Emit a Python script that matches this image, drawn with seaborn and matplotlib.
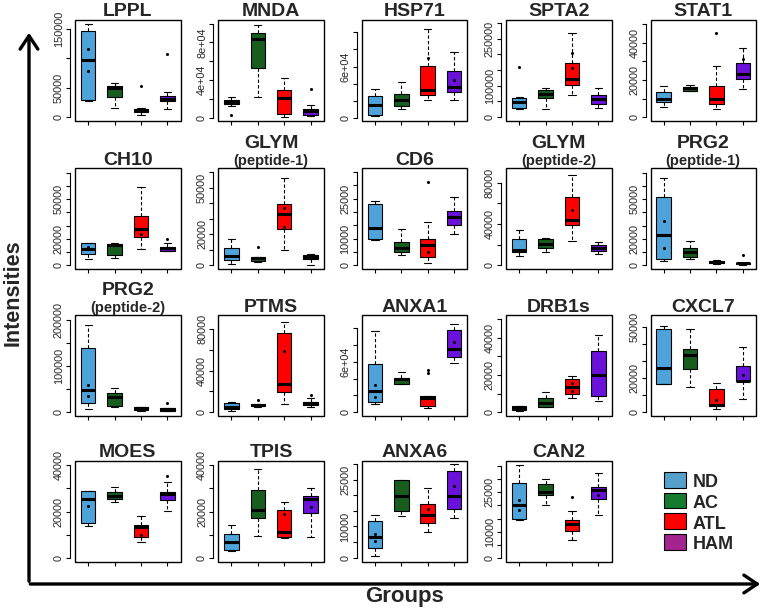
import numpy as np
import pandas as pd
import matplotlib
matplotlib.use("Agg")
import matplotlib.pyplot as plt
from matplotlib.patches import Rectangle, FancyArrowPatch
import seaborn as sns


# =========================
# Data
# =========================

GROUPS = ["ND", "AC", "ATL", "HAM"]
BOX_COLORS = ["#4DA3DA", "#175E1E", "#FF0000", "#6A12D9"]
LEGEND_COLORS = ["#55A1CB", "#137A30", "#FF0000", "#A5238F"]

# per group: [low whisker, q1, median, q3, high whisker]
LPPL = [[28000, 28600, 97400, 146000, 157500], [15500, 34400, 48700, 52700, 57300],
        [4000, 8600, 11500, 14300, 16000], [14300, 27000, 31500, 36000, 43000]]
LPPL_PTS = [[116000, 78500], [], [53300], [107000]]
LPPL_TICKS = [0, 50000, 100000, 150000]
LPPL_LAB = ["0", "50000", "", "150000"]

MNDA = [[13000, 14300, 16800, 19300, 22100], [21800, 52500, 83900, 90000, 98600],
        [700, 4300, 21100, 30000, 42500], [1800, 3200, 6800, 9600, 13200]]
MNDA_PTS = [[3200], [], [], [31000]]
MNDA_TICKS = [0, 20000, 40000, 60000, 80000, 100000]
MNDA_LAB = ["0", "", "4e+04", "", "8e+04", ""]

HSP71 = [[1600, 2800, 15400, 25600, 33500], [10600, 14200, 21300, 28400, 42200],
         [21300, 26400, 33100, 60700, 104000], [21300, 30400, 36300, 54800, 76500]]
HSP71_PTS = [[], [], [69800], [44200]]
HSP71_TICKS = [0, 20000, 40000, 60000, 80000, 100000]
HSP71_LAB = ["0", "", "", "6e+04", "", ""]

SPTA2 = [[24800, 30200, 48600, 61500, 64000], [27000, 61500, 73400, 86400, 91800],
         [70200, 101500, 122000, 172800, 266800], [30200, 43200, 57200, 70200, 91800]]
SPTA2_PTS = [[160000], [], [156600, 205000], []]
SPTA2_TICKS = [0, 50000, 100000, 150000, 200000, 250000, 300000]
SPTA2_LAB = ["0", "", "100000", "", "", "250000", ""]

STAT1 = [[5500, 8200, 10000, 13300, 16700], [14200, 14200, 15500, 16400, 17300],
         [4500, 6900, 10000, 16700, 27600], [14900, 20400, 23100, 29100, 37300]]
STAT1_PTS = [[], [], [45100], [31000]]
STAT1_TICKS = [0, 10000, 20000, 30000, 40000, 50000]
STAT1_LAB = ["0", "", "20000", "", "40000", ""]

CH10 = [[5000, 8250, 12000, 16500, 17000], [5250, 7750, 15000, 16250, 17000],
        [12000, 21250, 27500, 37500, 59000], [10750, 10750, 13000, 14000, 17000]]
CH10_PTS = [[14000], [], [24000], [20250]]
CH10_TICKS = [0, 10000, 20000, 30000, 40000, 50000, 60000, 70000]
CH10_LAB = ["0", "", "20000", "", "", "50000", "", ""]

GLYM1 = [[600, 3400, 6000, 10900, 16700], [2350, 2800, 4500, 5350, 5350],
         [9850, 23600, 33400, 39600, 56300], [200, 3900, 5600, 6400, 7100]]
GLYM1_PTS = [[], [11800], [37000, 24600], []]
GLYM1_TICKS = [0, 10000, 20000, 30000, 40000, 50000, 60000]
GLYM1_LAB = ["0", "", "20000", "", "", "50000", ""]

CD6 = [[9500, 10000, 13900, 22900, 24100], [3900, 5100, 6600, 8750, 13750],
       [1000, 3250, 7600, 9750, 16250], [11900, 15000, 18250, 20400, 25600]]
CD6_PTS = [[], [], [31400, 5000], []]
CD6_TICKS = [0, 5000, 10000, 15000, 20000, 25000, 30000, 35000]
CD6_LAB = ["0", "", "10000", "", "", "25000", "", ""]

GLYM2 = [[9000, 12800, 14400, 25600, 34600], [12800, 17000, 21100, 25000, 26600],
         [23400, 38700, 44200, 65600, 87400], [11200, 13800, 17000, 19200, 22400]]
GLYM2_PTS = [[], [], [53800], []]
GLYM2_TICKS = [0, 20000, 40000, 60000, 80000]
GLYM2_LAB = ["0", "", "40000", "", "80000"]

PRG2A = [[3250, 4500, 23250, 51250, 65700], [4500, 6250, 10250, 13250, 18250],
         [1250, 1500, 2500, 3250, 4000], [250, 750, 1500, 2000, 2000]]
PRG2A_PTS = [[33250, 13250], [], [], [7500]]
PRG2A_TICKS = [0, 10000, 20000, 30000, 40000, 50000, 60000, 70000]
PRG2A_LAB = ["0", "", "20000", "", "", "50000", "", ""]

PRG2B = [[5800, 18000, 47000, 139000, 189000], [10800, 12300, 32500, 41000, 52000],
         [2200, 3600, 7200, 9400, 10800], [1400, 2200, 5000, 7200, 7200]]
PRG2B_PTS = [[57800, 34000], [], [], [18000]]
PRG2B_TICKS = [0, 50000, 100000, 150000, 200000]
PRG2B_LAB = ["0", "", "100000", "", "200000"]

PTMS = [[650, 2300, 4900, 8750, 9700], [4900, 5500, 6500, 7450, 7450],
        [7450, 19400, 26900, 76200, 87500], [4900, 6500, 8100, 9700, 13000]]
PTMS_PTS = [[], [11300], [59000], [16200]]
PTMS_TICKS = [0, 20000, 40000, 60000, 80000]
PTMS_LAB = ["0", "", "40000", "", "80000"]

ANXA1 = [[9900, 12600, 25300, 57200, 96700], [33500, 33500, 39000, 41000, 48100],
         [4700, 7500, 16600, 19300, 19300], [58000, 65100, 74500, 97400, 105000]]
ANXA1_PTS = [[32300, 17800], [], [50000, 47000], [83600]]
ANXA1_TICKS = [0, 20000, 40000, 60000, 80000, 100000]
ANXA1_LAB = ["0", "", "", "6e+04", "", ""]

DRB1S = [[900, 1250, 2100, 3400, 3600], [3000, 3000, 4800, 7500, 11000],
         [7500, 9600, 13750, 17700, 19500], [6250, 8750, 20000, 32900, 41400]]
DRB1S_PTS = [[], [], [15500, 11500], []]
DRB1S_TICKS = [0, 10000, 20000, 30000, 40000, 50000]
DRB1S_LAB = ["0", "", "20000", "", "40000", ""]

CXCL7 = [[16500, 16700, 25900, 48800, 50800], [14700, 25300, 33700, 37100, 49000],
         [1800, 3700, 4300, 13500, 17500], [7800, 18600, 18600, 27500, 38200]]
CXCL7_PTS = [[], [], [7000], [22000]]
CXCL7_TICKS = [0, 10000, 20000, 30000, 40000, 50000]
CXCL7_LAB = ["0", "", "20000", "", "", "50000"]

MOES = [[13900, 15000, 25400, 28900, 28900], [24000, 25300, 26900, 28300, 30700],
        [6900, 9000, 13300, 14300, 18300], [20400, 25000, 27400, 28300, 32600]]
MOES_PTS = [[22600], [], [10000], [35400]]
MOES_TICKS = [0, 10000, 20000, 30000, 40000]
MOES_LAB = ["0", "", "20000", "", "40000"]

TPIS = [[3100, 3600, 6900, 10300, 14300], [9700, 17400, 20700, 29300, 38100],
        [8600, 9000, 11100, 20700, 24300], [9000, 19300, 25300, 26900, 30300]]
TPIS_PTS = [[7000], [], [19000], [22000]]
TPIS_TICKS = [0, 10000, 20000, 30000, 40000]
TPIS_LAB = ["0", "", "20000", "", "40000"]

ANXA6 = [[500, 3200, 6600, 11700, 13600], [13500, 15100, 19700, 25000, 25000],
         [8200, 11000, 13600, 17200, 22300], [12600, 15600, 19900, 27900, 30100]]
ANXA6_PTS = [[7700, 5500], [], [15700], [22900]]
ANXA6_TICKS = [0, 5000, 10000, 15000, 20000, 25000, 30000]
ANXA6_LAB = ["0", "", "10000", "", "", "25000", ""]

CAN2 = [[14500, 14800, 20300, 28400, 35400], [20000, 24100, 25000, 28100, 30000],
        [6900, 10300, 12900, 14400, 17800], [16300, 22500, 25900, 26900, 32100]]
CAN2_PTS = [[21900, 18400], [], [23100], [24000]]
CAN2_TICKS = [0, 5000, 10000, 15000, 20000, 25000, 30000, 35000]
CAN2_LAB = ["0", "", "10000", "", "", "25000", "", ""]


# =========================
# Panel table
# =========================

PANELS = [
    ("LPPL", None, LPPL, LPPL_PTS, LPPL_TICKS, LPPL_LAB, (-5700, 166000)),
    ("MNDA", None, MNDA, MNDA_PTS, MNDA_TICKS, MNDA_LAB, (-2900, 104300)),
    ("HSP71", None, HSP71, HSP71_PTS, HSP71_TICKS, HSP71_LAB, (-3150, 115000)),
    ("SPTA2", None, SPTA2, SPTA2_PTS, SPTA2_TICKS, SPTA2_LAB, (-10800, 311000)),
    ("STAT1", None, STAT1, STAT1_PTS, STAT1_TICKS, STAT1_LAB, (-1800, 52400)),
    ("CH10", None, CH10, CH10_PTS, CH10_TICKS, CH10_LAB, (-3000, 73250)),
    ("GLYM", "(peptide-1)", GLYM1, GLYM1_PTS, GLYM1_TICKS, GLYM1_LAB, (-2600, 62700)),
    ("CD6", None, CD6, CD6_PTS, CD6_TICKS, CD6_LAB, (-1500, 36400)),
    ("GLYM", "(peptide-2)", GLYM2, GLYM2_PTS, GLYM2_TICKS, GLYM2_LAB, (-3800, 93800)),
    ("PRG2", "(peptide-1)", PRG2A, PRG2A_PTS, PRG2A_TICKS, PRG2A_LAB, (-3000, 73250)),
    ("PRG2", "(peptide-2)", PRG2B, PRG2B_PTS, PRG2B_TICKS, PRG2B_LAB, (-9400, 210000)),
    ("PTMS", None, PTMS, PTMS_PTS, PTMS_TICKS, PTMS_LAB, (-4200, 94000)),
    ("ANXA1", None, ANXA1, ANXA1_PTS, ANXA1_TICKS, ANXA1_LAB, (-4300, 115200)),
    ("DRB1s", None, DRB1S, DRB1S_PTS, DRB1S_TICKS, DRB1S_LAB, (-2000, 52100)),
    ("CXCL7", None, CXCL7, CXCL7_PTS, CXCL7_TICKS, CXCL7_LAB, (-2150, 57250)),
    ("MOES", None, MOES, MOES_PTS, MOES_TICKS, MOES_LAB, (-1430, 41860)),
    ("TPIS", None, TPIS, TPIS_PTS, TPIS_TICKS, TPIS_LAB, (-1430, 41860)),
    ("ANXA6", None, ANXA6, ANXA6_PTS, ANXA6_TICKS, ANXA6_LAB, (-1280, 31060)),
    ("CAN2", None, CAN2, CAN2_PTS, CAN2_TICKS, CAN2_LAB, (-1250, 36900)),
]


# =========================
# Layout (pixels)
# =========================

W_PX, H_PX = 765, 611
COL_LEFT = [75, 218.3, 361.7, 506, 650.5]
ROW_TOP = [19.5, 168.3, 315, 460.7]
BOX_W, BOX_H = 105.5, 101


sns.set_theme(style="white")
plt.rcParams["font.family"] = ["Liberation Sans", "DejaVu Sans"]

fig = plt.figure(figsize=(W_PX / 100, H_PX / 100), dpi=100)
fig.patch.set_facecolor("white")


def px_rect(x, y, w, h):
    return [x / W_PX, 1 - (y + h) / H_PX, w / W_PX, h / H_PX]


def long_frame(values):
    rows = [(g, v) for g, vals in zip(GROUPS, values) for v in vals]
    return pd.DataFrame(rows, columns=["group", "value"])


for i, (name, sub, boxes, pts, ticks, labels, ylim) in enumerate(PANELS):

    r, c = divmod(i, 5)

    ax = fig.add_axes(px_rect(COL_LEFT[c], ROW_TOP[r], BOX_W, BOX_H))

    sns.boxplot(
        data=long_frame(boxes),
        x="group",
        y="value",
        hue="group",
        order=GROUPS,
        hue_order=GROUPS,
        palette=BOX_COLORS,
        saturation=1,
        width=0.55,
        whis=(0, 100),
        showfliers=False,
        linewidth=0.8,
        linecolor="black",
        medianprops={"linewidth": 2.2},
        whiskerprops={"linestyle": (0, (3, 2))},
        dodge=False,
        legend=False,
        ax=ax,
    )

    pt_df = long_frame(pts)
    if len(pt_df):
        sns.stripplot(
            data=pt_df,
            x="group",
            y="value",
            order=GROUPS,
            color="black",
            size=2.2,
            jitter=False,
            ax=ax,
        )

    ax.set_xlim(-0.5, 3.5)
    ax.set_ylim(*ylim)
    ax.set_xlabel("")
    ax.set_ylabel("")

    for s in ["top", "right", "bottom"]:
        ax.spines[s].set_visible(False)
    ax.spines["left"].set_position(("outward", 3.6))
    ax.spines["left"].set_bounds(ticks[0], ticks[-1])
    ax.spines["left"].set_linewidth(0.8)
    ax.spines["left"].set_color("black")

    ax.tick_params(axis="both", length=3, width=0.8, direction="out",
                   pad=1.5, color="black", left=True, bottom=True)
    ax.tick_params(axis="y", labelrotation=90, labelsize=7.8)

    ax.set_xticks(range(4))
    ax.set_xticklabels([])
    ax.set_yticks(ticks)
    ax.set_yticklabels(labels)
    for t in ax.get_yticklabels():
        t.set_rotation(90)
        t.set_va("center")
        t.set_ha("right")
        t.set_fontsize(7.8)

    ax.add_artist(Rectangle((0, 0), 1, 1, transform=ax.transAxes,
                            fill=False, lw=1.0, ec="black", clip_on=False))

    if sub is None:
        ax.annotate(name, xy=(0.5, 1), xycoords="axes fraction",
                    xytext=(0, 3.5), textcoords="offset pixels",
                    ha="center", va="baseline", fontsize=14, fontweight="bold")
    else:
        ax.annotate(name, xy=(0.5, 1), xycoords="axes fraction",
                    xytext=(0, 20), textcoords="offset pixels",
                    ha="center", va="baseline", fontsize=14, fontweight="bold")
        ax.annotate(sub, xy=(0.5, 1), xycoords="axes fraction",
                    xytext=(0, 3), textcoords="offset pixels",
                    ha="center", va="baseline", fontsize=10.5, fontweight="bold")


# =========================
# Big axes arrows
# =========================

def fx(x):
    return x / W_PX


def fy(y):
    return 1 - y / H_PX


fig.add_artist(FancyArrowPatch((fx(29), fy(584)), (fx(29), fy(30)),
                               transform=fig.transFigure,
                               arrowstyle="->,head_length=6,head_width=4",
                               lw=2.4, color="black", mutation_scale=1.6))
fig.add_artist(FancyArrowPatch((fx(27.5), fy(584)), (fx(763), fy(584)),
                               transform=fig.transFigure,
                               arrowstyle="->,head_length=6,head_width=4",
                               lw=2.4, color="black", mutation_scale=1.6))

fig.text(fx(13), fy(293), "Intensities", rotation=90, ha="center", va="center",
         fontsize=15.5, fontweight="bold")
fig.text(fx(405), fy(602), "Groups", ha="center", va="baseline",
         fontsize=16, fontweight="bold")


# =========================
# Legend
# =========================

LEG_TOP = [472, 492.5, 513.3, 534]
for top, col, lab in zip(LEG_TOP, LEGEND_COLORS, GROUPS):
    fig.add_artist(Rectangle((fx(664), fy(top + 15.5)), 22 / W_PX, 15.5 / H_PX,
                             transform=fig.transFigure, fc=col, ec="black", lw=0.8))
    fig.text(fx(693), fy(top + 15.3), lab, ha="left", va="baseline",
             fontsize=13, fontweight="bold")


plt.savefig("out.png", dpi=100)
